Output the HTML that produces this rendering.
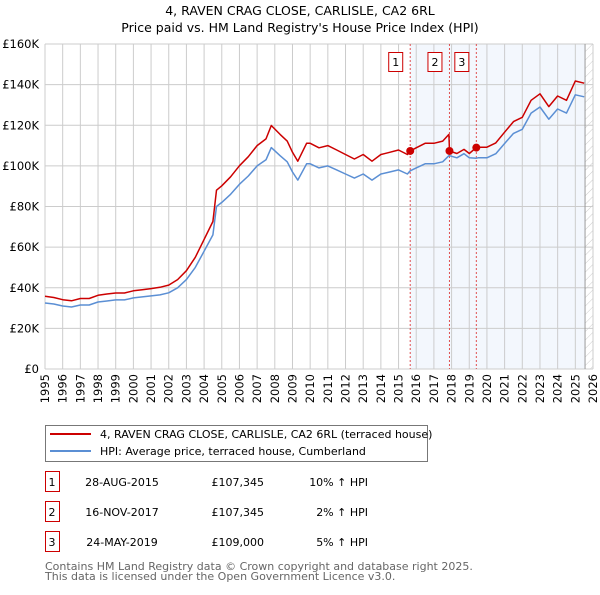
<!DOCTYPE html>
<html><head><meta charset="utf-8"><style>
body{margin:0;background:#fff;font-family:"Liberation Sans","DejaVu Sans",sans-serif;}
svg text{font-family:"DejaVu Sans","Liberation Sans",sans-serif;}
</style></head><body>
<svg id="c" width="600" height="590" viewBox="0 0 600 590">
<text x="300" y="15" text-anchor="middle" font-size="12.5">4, RAVEN CRAG CLOSE, CARLISLE, CA2 6RL</text>
<text x="300" y="32" text-anchor="middle" font-size="12.5">Price paid vs. HM Land Registry's House Price Index (HPI)</text>
<g id="plot"></g>
<g>
<rect x="45.5" y="425.5" width="382" height="36" fill="#fff" stroke="#777"/>
<line x1="50" y1="434" x2="91" y2="434" stroke="#cc0000" stroke-width="2"/>
<text x="100" y="438" font-size="11">4, RAVEN CRAG CLOSE, CARLISLE, CA2 6RL (terraced house)</text>
<line x1="50" y1="451" x2="91" y2="451" stroke="#5b8fd4" stroke-width="2"/>
<text x="100" y="455" font-size="11">HPI: Average price, terraced house, Cumberland</text>
</g>
<g id="table" font-size="11"></g>
<text x="45" y="570" font-size="11" fill="#666">Contains HM Land Registry data © Crown copyright and database right 2025.</text>
<text x="45" y="580" font-size="11" fill="#666">This data is licensed under the Open Government Licence v3.0.</text>
</svg>
<script>
const times=[1995,1995.5,1996,1996.5,1997,1997.5,1998,1998.5,1999,1999.5,2000,2000.5,2001,2001.5,2002,2002.5,2003,2003.5,2004,2004.5,2004.7,2005,2005.5,2006,2006.5,2007,2007.5,2007.8,2008.3,2008.7,2009,2009.3,2009.8,2010,2010.5,2011,2011.5,2012,2012.5,2013,2013.5,2014,2014.5,2015,2015.5,2015.66,2016,2016.5,2017,2017.5,2017.85,2017.88,2018.3,2018.7,2019,2019.4,2019.5,2020,2020.5,2021,2021.5,2022,2022.5,2023,2023.5,2024,2024.5,2025,2025.5];
const hpi=[32.5,32,31,30.5,31.5,31.5,33,33.5,34,34,35,35.5,36,36.5,37.5,40,44,50,58,66,80,82,86,91,95,100,103,109,105,102,97,93,101,101,99,100,98,96,94,96,93,96,97,98,96,97.6,99,101,101,102,105,105,104,106,104,103.8,104,104,106,111,116,118,126,129,123,128,126,135,134];
const price=[35.8,35.2,34.1,33.6,34.7,34.7,36.3,36.9,37.4,37.4,38.5,39,39.6,40.2,41.3,44,48.4,55,63.8,72.6,88,90.2,94.6,100.1,104.5,110,113.3,119.9,115.5,112.2,106.7,102.3,111.1,111.1,108.9,110,107.8,105.6,103.4,105.6,102.3,105.6,106.7,107.8,105.6,107.3,108.9,111.1,111.1,112.2,115.5,107.3,106.1,108.1,106.1,109.0,109.2,109.2,111.3,116.6,121.8,123.9,132.3,135.5,129.2,134.4,132.3,141.8,140.7];
const yTicks=[0,20,40,60,80,100,120,140,160];
const yTickLabels=["£0","£20K","£40K","£60K","£80K","£100K","£120K","£140K","£160K"];
const xYears=[1995,1996,1997,1998,1999,2000,2001,2002,2003,2004,2005,2006,2007,2008,2009,2010,2011,2012,2013,2014,2015,2016,2017,2018,2019,2020,2021,2022,2023,2024,2025,2026];
const saleLabels=["1","2","3"];
const saleTimes=[2015.66,2017.88,2019.4];
const saleValues=[107.345,107.345,109.0];
const saleDates=["28-AUG-2015","16-NOV-2017","24-MAY-2019"];
const salePrices=["£107,345","£107,345","£109,000"];
const saleHpi=["10% ↑ HPI","2% ↑ HPI","5% ↑ HPI"];
const dataEnd=2025.55;

const NS="http://www.w3.org/2000/svg";
const L=45,R=593,T=44,B=369;
const x=t=>L+(t-1995)/(2026-1995)*(R-L);
const y=v=>B-v/160*(B-T);
function mk(tag,attrs,parent){const e=document.createElementNS(NS,tag);for(const k in attrs)e.setAttribute(k,attrs[k]);parent.appendChild(e);return e;}
const g=document.getElementById('plot');
let sh=mk('rect',{x:x(saleTimes[0]),y:T,width:x(dataEnd)-x(saleTimes[0]),height:B-T,fill:'#eef3fc',opacity:0.7},g);


const defs=mk('defs',{},g);
const pat=mk('pattern',{id:'h',width:6,height:6,patternUnits:'userSpaceOnUse',patternTransform:'rotate(45)'},defs);
mk('line',{x1:0,y1:0,x2:0,y2:6,stroke:'#ccc','stroke-width':1},pat);
let ht=mk('rect',{x:x(dataEnd),y:T,width:R-x(dataEnd),height:B-T,fill:'url(#h)'},g);


xYears.forEach(yr=>{const l=mk('line',{x1:x(yr),y1:T,x2:x(yr),y2:B,stroke:'#ccc','stroke-width':1},g);


const t=mk('text',{x:0,y:0,'text-anchor':'end','font-size':11.5,transform:`translate(${x(yr)+4},374) rotate(-90)`},g);t.textContent=yr;

});
yTicks.forEach((v,i)=>{const l=mk('line',{x1:L,y1:y(v),x2:R,y2:y(v),stroke:'#ccc','stroke-width':1},g);


const t=mk('text',{x:39,y:y(v)+4,'text-anchor':'end','font-size':11.5},g);t.textContent=yTickLabels[i];

});
mk('line',{x1:x(dataEnd),y1:T,x2:x(dataEnd),y2:B,stroke:'#999'},g);
saleTimes.forEach((st,i)=>{const l=mk('line',{x1:x(st),y1:T,x2:x(st),y2:B,stroke:'#e05050','stroke-dasharray':'2,2','stroke-width':1},g);


const b=mk('rect',{x:x(st)-21.5,y:52.5,width:14,height:19,fill:'#fff',stroke:'#cc0000'},g);


const t=mk('text',{x:x(st)-14.5,y:66,'text-anchor':'middle','font-size':11},g);t.textContent=saleLabels[i];

});
function path(vals,col,name){const d=vals.map((v,i)=>(i?'L':'M')+x(times[i]).toFixed(1)+','+y(v).toFixed(1)).join('');
const p=mk('path',{d:d,fill:'none',stroke:col,'stroke-width':1.5,'stroke-linejoin':'round'},g);

}
path(hpi,'#5b8fd4','hpi-line');
path(price,'#cc0000','price-paid-line');
saleTimes.forEach((st,i)=>{const c=mk('circle',{cx:x(st),cy:y(saleValues[i]),r:4,fill:'#cc0000'},g);

});
const tb=document.getElementById('table');
saleLabels.forEach((s,i)=>{const yy=482+i*30;
const b=mk('rect',{x:45.5,y:yy-10.5,width:14,height:20,fill:'#fff',stroke:'#cc0000'},tb);


const cells=[[52,'middle',s],[122,'middle',saleDates[i]],[264,'end',salePrices[i]],[368,'end',saleHpi[i]]];
cells.forEach(c=>{const t=mk('text',{x:c[0],y:yy+4,'text-anchor':c[1]},tb);t.textContent=c[2];

});});
</script>
</body></html>
